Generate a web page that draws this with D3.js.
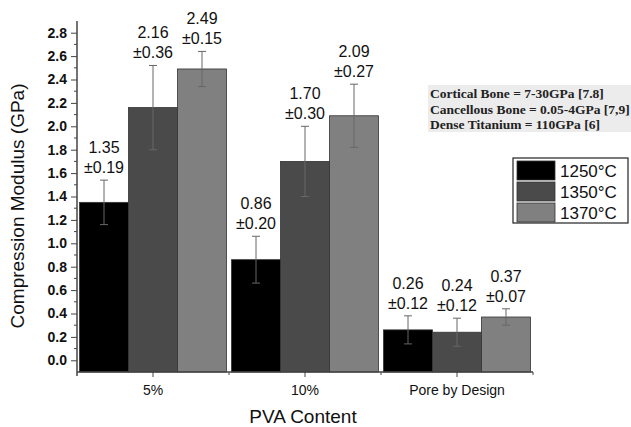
<!DOCTYPE html>
<html><head><meta charset="utf-8">
<script src="https://cdn.jsdelivr.net/npm/d3@7"></script>
<style>body{margin:0;background:#fff}svg{display:block}</style>
</head><body>
<svg id="c" width="631" height="427"></svg>
<script>
const categories = ["5%", "10%", "Pore by Design"];
const series = ["1250°C", "1350°C", "1370°C"];
const colors = ["#000000", "#4a4a4a", "#808080"];
const values1250 = [1.35, 0.86, 0.26];
const values1350 = [2.16, 1.70, 0.24];
const values1370 = [2.49, 2.09, 0.37];
const errors1250 = [0.19, 0.20, 0.12];
const errors1350 = [0.36, 0.30, 0.12];
const errors1370 = [0.15, 0.27, 0.07];
const yTicks = [0.0,0.2,0.4,0.6,0.8,1.0,1.2,1.4,1.6,1.8,2.0,2.2,2.4,2.6,2.8];
const notes = ["Cortical Bone = 7-30GPa [7.8]", "Cancellous Bone = 0.05-4GPa [7,9]", "Dense Titanium = 110GPa [6]"];

(function(){
const vals = [values1250, values1350, values1370];
const errs = [errors1250, errors1350, errors1370];

const svg = d3.select("#c");
const L = 77, R = 533, T = 21, B = 372;
const y = d3.scaleLinear().domain([-0.1, 2.9]).range([B, T]);
const x0 = d3.scaleBand().domain(categories).range([L, R]).padding(0);
const x1 = d3.scaleBand().domain(series).range([2.5, x0.bandwidth() - 2.5]).padding(0);

const data = [];
categories.forEach((c, ci) => series.forEach((s, si) => {
  data.push({c, s, si, v: vals[si][ci], e: errs[si][ci]});
}));

svg.append("g").selectAll("rect").data(data).join("rect")
  .attr("x", d => x0(d.c) + x1(d.s))
  .attr("width", x1.bandwidth())
  .attr("y", d => y(d.v))
  .attr("height", d => y(-0.1) - y(d.v))
  .attr("fill", d => colors[d.si])
  .attr("stroke", "#333").attr("stroke-width", 0.8);

const eg = svg.append("g").attr("stroke", "#666").attr("stroke-width", 1);
data.forEach(d => {
  const cx = x0(d.c) + x1(d.s) + x1.bandwidth() / 2;
  eg.append("line").attr("x1", cx).attr("x2", cx).attr("y1", y(d.v + d.e)).attr("y2", y(d.v - d.e));
  eg.append("line").attr("x1", cx - 4).attr("x2", cx + 4).attr("y1", y(d.v + d.e)).attr("y2", y(d.v + d.e));
  eg.append("line").attr("x1", cx - 4).attr("x2", cx + 4).attr("y1", y(d.v - d.e)).attr("y2", y(d.v - d.e));
});

const lg = svg.append("g").attr("font-family", "Liberation Sans, Arial, sans-serif").attr("font-size", 16).attr("fill", "#111").attr("text-anchor", "middle");
data.forEach(d => {
  const cx = x0(d.c) + x1(d.s) + x1.bandwidth() / 2;
  const t = y(d.v + d.e) - 7;
  lg.append("text").attr("x", cx).attr("y", t).text("±" + d.e.toFixed(2));
  lg.append("text").attr("x", cx).attr("y", t - 20).text(d.v.toFixed(2));
});

const yAxis = d3.axisLeft(y).tickValues(yTicks).tickFormat(d3.format(".1f")).tickSize(6).tickPadding(4);
const ya = svg.append("g").attr("transform", `translate(${L},0)`).call(yAxis);
ya.select(".domain").remove();
ya.selectAll("text").attr("font-family", "Liberation Sans, Arial, sans-serif").attr("font-size", 14).attr("font-weight", "bold").attr("fill", "#111");
ya.selectAll("line").attr("stroke", "#444");
const minor = d3.range(0.1, 2.9, 0.2);
svg.append("g").selectAll("line").data(minor).join("line")
  .attr("x1", L - 3).attr("x2", L).attr("y1", d => y(d)).attr("y2", d => y(d)).attr("stroke", "#444");
svg.append("line").attr("x1", L).attr("x2", L).attr("y1", T).attr("y2", B + 4).attr("stroke", "#444").attr("stroke-width", 1.5);

const xAxis = d3.axisBottom(x0).tickSize(5).tickPadding(8);
const xa = svg.append("g").attr("transform", `translate(0,${B})`).call(xAxis);
xa.select(".domain").remove();
xa.selectAll("text").attr("font-family", "Liberation Sans, Arial, sans-serif").attr("font-size", 14).attr("fill", "#111");
xa.selectAll("line").attr("stroke", "#444");
svg.append("line").attr("x1", L).attr("x2", R).attr("y1", B).attr("y2", B).attr("stroke", "#444").attr("stroke-width", 1.5);
svg.append("g").selectAll("line").data(categories.slice(1)).join("line")
  .attr("x1", d => x0(d)).attr("x2", d => x0(d)).attr("y1", B).attr("y2", B + 3).attr("stroke", "#444");
svg.append("line").attr("x1", R).attr("x2", R).attr("y1", B).attr("y2", B + 3).attr("stroke", "#444");

svg.append("text").attr("transform", `translate(24,206) rotate(-90)`).attr("text-anchor", "middle")
  .attr("font-family", "Liberation Sans, Arial, sans-serif").attr("font-size", 19).attr("fill", "#111").text("Compression Modulus (GPa)");
svg.append("text").attr("x", 303).attr("y", 423).attr("text-anchor", "middle")
  .attr("font-family", "Liberation Sans, Arial, sans-serif").attr("font-size", 19).attr("fill", "#111").text("PVA Content");

svg.append("rect").attr("x", 428).attr("y", 85).attr("width", 203).attr("height", 47).attr("fill", "#ececec");
svg.append("g").selectAll("text").data(notes).join("text")
  .attr("x", 430).attr("y", (d, i) => 98 + i * 15.5)
  .attr("font-family", "Liberation Serif, Times New Roman, serif").attr("font-weight", "bold").attr("font-size", 13.5).attr("fill", "#222")
  .text(d => d);

svg.append("rect").attr("x", 513).attr("y", 158).attr("width", 115).attr("height", 65).attr("fill", "#fff").attr("stroke", "#222").attr("stroke-width", 1.2);
const leg = svg.append("g");
series.forEach((s, i) => {
  leg.append("rect").attr("x", 517).attr("y", 161 + i * 21).attr("width", 38).attr("height", 19).attr("fill", colors[i]).attr("stroke", "#333").attr("stroke-width", 0.8);
  leg.append("text").attr("x", 560).attr("y", 177 + i * 21).attr("font-family", "Liberation Sans, Arial, sans-serif").attr("font-size", 17).attr("fill", "#111").text(s);
});
})();
</script>
</body></html>
